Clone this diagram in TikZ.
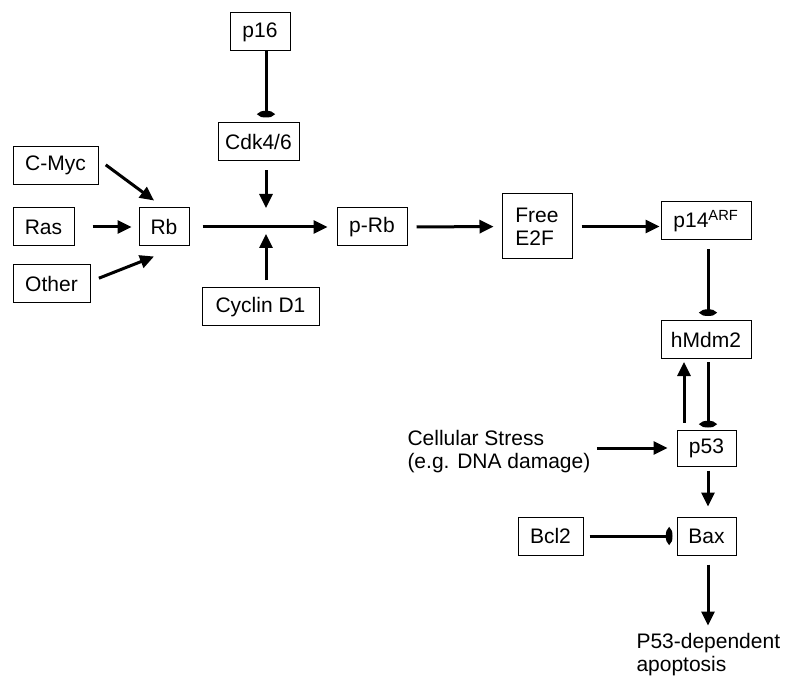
\documentclass[tikz,border=0pt]{standalone}
\usepackage{fontspec}
\setmainfont{Liberation Sans}
\usetikzlibrary{arrows.meta,calc}

\tikzset{every picture/.style={line width=0.75pt}}
\tikzset{
  box/.style={draw, line width=0.75pt, inner sep=0pt, minimum height=28.5pt, font=\fontsize{15.75}{17.25}\selectfont},
  lbl/.style={inner sep=0.75pt, align=left, font=\fontsize{15.75}{17.25}\selectfont},
  act/.style={line width=2.25pt, -{Triangle[length=10.5pt,width=9.75pt]}},
  inh/.style={line width=2.25pt, -{Ellipse[length=5pt,width=12pt]}}
}

\begin{document}
\begin{tikzpicture}[x=0.75pt,y=0.75pt,yscale=-1,xscale=1]
    \useasboundingbox (0,0) rectangle (789,677);

    % Boxes, Rb part
    \node [box, minimum width=45pt] (p16) at (260,32) {p16};
    \node [box, minimum width=60.75pt] (cdk) at (258.5,142) {Cdk4/6};
    \node [box, minimum width=63.75pt] (cmyc) at (55.5,165.5) {C-Myc};
    \node [box, minimum width=45.75pt] (ras) at (43.5,227) {Ras};
    \node [box, minimum width=57.75pt] (other) at (51.5,283.5) {Other};
    \node [box, minimum width=37.5pt] (rb) at (164,227) {Rb};
    \node [box, minimum width=87.75pt] (cyclin) at (260.5,307) {Cyclin D1};
    \node [box, minimum width=52.5pt] (prb) at (372,227) {p-Rb};
    \node [box, minimum width=52.5pt, minimum height=48.75pt, align=left] (e2f) at (537,226.5) {Free\\E2F};
    \node [box, minimum width=67.5pt] (p14) at (706,221) {p14\textsuperscript{ARF}};

    % Boxes, p53 part
    \node [box, minimum width=67.5pt] (mdm2) at (706,339.5) {hMdm2};
    \node [box, minimum width=44.25pt, minimum height=27pt] (p53) at (706.5,448) {p53};
    \node [box, minimum width=44.25pt] (bax) at (706.5,536) {Bax};
    \node [box, minimum width=48.75pt] (bcl2) at (550.5,536) {Bcl2};

    % Text Node
    \node [lbl, anchor=west] (stress) at (406,452) {Cellular Stress\\(e.g. DNA damage)};
    % Text Node
    \node [lbl, anchor=west] (apop) at (635,655) {P53-dependent\\apoptosis};

    \coordinate (junc) at (266,226);
    \coordinate (drop) at (708,0);

    % Connectors
    \draw [inh, shorten >=3.75pt] (p16.south -| junc) -- (cdk.north -| junc);
    \draw [act, shorten <=6.75pt, shorten >=13.5pt] (cdk.south -| junc) -- (junc);
    \draw [act, shorten <=5.25pt, shorten >=6pt] (cyclin.north -| junc) -- (junc);
    \draw [act, shorten <=6.75pt] ($(cmyc.east)+(0,-6)$) -- ($(rb.north)+(-10,-7)$);
    \draw [act, shorten <=13.5pt, shorten >=5.25pt] (ras) -- (rb);
    \draw [act, shorten <=6.75pt] ($(other.east)+(0,-2)$) -- ($(rb.south)+(-10,10)$);
    \draw [act, shorten <=9.75pt, shorten >=6.75pt] (rb) -- (prb);
    \draw [act, shorten <=6.75pt, shorten >=6pt] (prb) -- (e2f);
    \draw [act, shorten <=6.75pt, shorten >=0.75pt] (e2f.east) -- (e2f.east -| p14.west);
    \draw [inh, shorten <=6.75pt, shorten >=3pt] (p14.south -| drop) -- (mdm2.north -| drop);
    \draw [act, shorten <=5.25pt, shorten >=2.25pt] ($(p53.north)+(-22.5,0)$) -- ($(mdm2.south)+(-22,0)$);
    \draw [inh, shorten <=2.25pt, shorten >=1.5pt] (mdm2.south -| drop) -- (p53.north -| drop);
    \draw [act, shorten <=3.75pt, shorten >=6.75pt] (stress.east |- p53.west) -- (p53.west);
    \draw [act, shorten <=3pt, shorten >=7.5pt] (p53.south -| drop) -- (bax.north -| drop);
    \draw [inh, shorten <=4.5pt, shorten >=3pt] (bcl2) -- (bax);
    \draw [act, shorten <=6.75pt, shorten >=5pt] (bax.south -| drop) -- (apop.north -| drop);

\end{tikzpicture}
\end{document}
